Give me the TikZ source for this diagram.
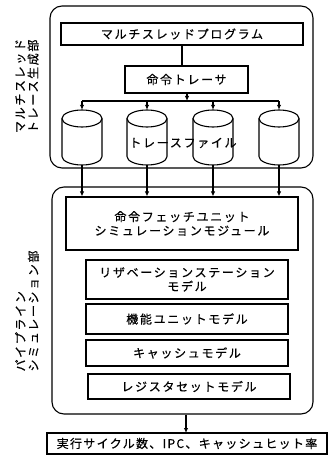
\documentclass[tikz,border=0pt]{standalone}
\usepackage{fontspec}
\setmainfont{Noto Sans CJK JP}[LetterSpace=14, FakeBold=0.5]
\usetikzlibrary{arrows.meta}
\tikzset{
  box/.style={draw, line width=1.1pt, inner sep=0pt, align=center, font=\fontsize{12}{14}\selectfont},
  frame/.style={draw, line width=1.1pt, rounded corners=12pt, inner sep=0pt},
  drum/.style={inner sep=0pt, minimum width=40pt, minimum height=55pt},
  conn/.style={line width=1.1pt},
  arr/.style={line width=1.1pt, -{Latex[length=5pt,width=4.5pt]}},
  side/.style={rotate=90, align=left, inner sep=0pt, font=\fontsize{12}{13}\selectfont}
}
\begin{document}
\begin{tikzpicture}[x=1pt,y=-1pt]
\useasboundingbox (0,0) rectangle (332,462);
% upper frame
\node[frame, minimum width=263pt, minimum height=162pt] (gen) at (181.5,87) {};
\node[box, minimum width=242pt, minimum height=22pt] (prog) at (182,34) {マルチスレッドプログラム};
\node[box, minimum width=123pt, minimum height=27pt] (tracer) at (186.5,79.5) {命令トレーサ};
\node[drum] (c1) at (82,137.5) {};
\node[drum] (c2) at (147,137.5) {};
\node[drum] (c3) at (213,137.5) {};
\node[drum] (c4) at (279,137.5) {};
\foreach \c in {c1,c2,c3,c4}{
  \draw[conn, shift={(\c.center)}] (-20,-19) -- (-20,19) arc[start angle=180, end angle=360, x radius=20pt, y radius=8.5pt] -- (20,-19);
  \draw[conn, shift={(\c.center)}] (0,-19) ellipse [x radius=20pt, y radius=8.5pt];
}
\node[font=\fontsize{12}{13}\selectfont, inner sep=0pt] (tf) at (183,143) {トレースファイル};
\coordinate (bar) at (0,101);
\draw[conn] (prog.south) -- (prog.south |- tracer.north);
\draw[arr] (tracer.south -| 187,0) -- (187,101);
\draw[conn] (c1.north |- bar) -- (c4.north |- bar);
\foreach \c in {c1,c2,c3,c4}{
  \draw[arr] (\c.north |- bar) -- (\c.north);
}
% lower frame
\node[frame, minimum width=261pt, minimum height=227pt] (sim) at (182.5,300.5) {};
\node[box, minimum width=232pt, minimum height=53pt] (fetch) at (182,223.5) {命令フェッチユニット\\シミュレーションモジュール};
\node[box, minimum width=202pt, minimum height=39pt] (rs) at (187,279.5) {リザベーションステーション\\モデル};
\node[box, minimum width=202pt, minimum height=30pt] (fu) at (187,319) {機能ユニットモデル};
\node[box, minimum width=202pt, minimum height=26pt] (cache) at (187,353) {キャッシュモデル};
\node[box, minimum width=202pt, minimum height=25pt] (reg) at (189,386.5) {レジスタセットモデル};
\foreach \c in {c1,c2,c3,c4}{
  \draw[arr] (\c.south) -- (\c.south |- fetch.north);
}
\node[box, minimum width=280pt, minimum height=21pt, font=\fontsize{12}{14}\selectfont\addfontfeature{LetterSpace=11}] (res) at (187,443.5) {実行サイクル数、IPC、キャッシュヒット率};
\draw[arr] (sim.south -| 186,0) -- (186,433);
% side labels
\node[side] (l1) at (27,86) {マルチスレッド\\トレース生成部};
\node[side] (l2) at (27,311) {パイプライン\\シミュレーション部};
\end{tikzpicture}
\end{document}
